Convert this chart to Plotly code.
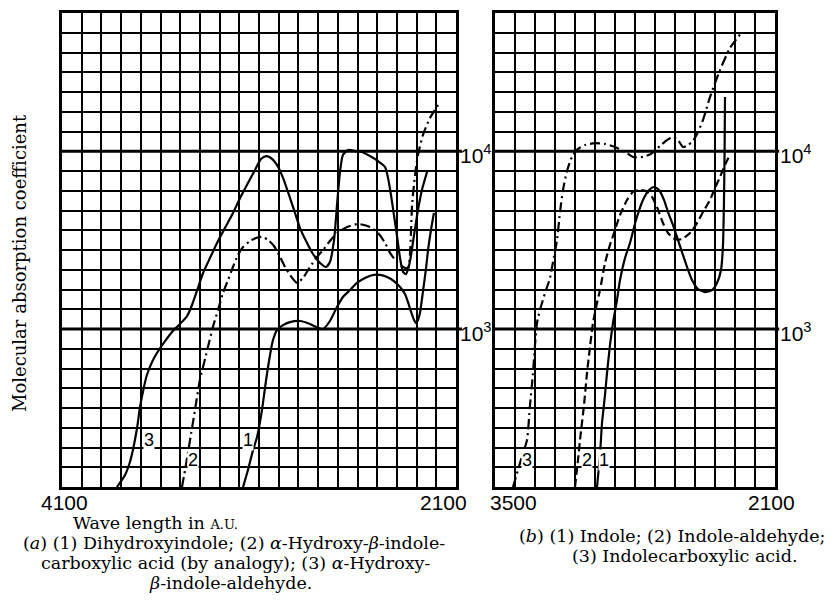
import plotly.graph_objects as go

# ---------------- data (wavelength in Å, log10 of molecular absorption coefficient) ----------------
# Panel (a)
a1_wl = [3181, 3156, 3130, 3110, 3085, 3064, 3044, 3029, 3009, 2978, 2943, 2892, 2841, 2800, 2775,
         2740, 2704, 2674, 2638, 2603, 2562, 2521, 2486, 2450, 2415, 2384, 2359, 2344, 2328, 2313,
         2303, 2293, 2283, 2268, 2252, 2242, 2227, 2212]
a1_log = [2.111, 2.207, 2.319, 2.392, 2.544, 2.713, 2.854, 2.938, 2.994, 3.022, 3.039, 3.045, 3.028, 3.006, 3.000,
          3.045, 3.124, 3.180, 3.219, 3.259, 3.287, 3.304, 3.304, 3.293, 3.270, 3.236, 3.197, 3.152, 3.096, 3.051,
          3.034, 3.051, 3.090, 3.208, 3.343, 3.444, 3.557, 3.653]

a2_wl = [3491, 3471, 3450, 3425, 3400, 3369, 3334, 3308, 3283, 3257, 3232, 3207, 3181, 3146, 3115,
         3085, 3054, 3024, 2998, 2973, 2943, 2907, 2877, 2841, 2806, 2775, 2740, 2704, 2653, 2597,
         2537, 2496, 2460, 2435, 2400, 2369, 2344, 2334, 2328, 2323, 2308, 2293, 2268, 2232, 2191]
a2_log = [2.111, 2.235, 2.375, 2.544, 2.713, 2.854, 3.011, 3.107, 3.202, 3.276, 3.349, 3.416, 3.461, 3.495, 3.512,
          3.518, 3.501, 3.467, 3.416, 3.360, 3.304, 3.259, 3.287, 3.349, 3.405, 3.444, 3.495, 3.540, 3.574, 3.591,
          3.574, 3.540, 3.484, 3.428, 3.377, 3.349, 3.343, 3.416, 3.557, 3.698, 3.866, 3.979, 4.091, 4.187, 4.260]

a3_wl = [3821, 3780, 3755, 3740, 3719, 3704, 3684, 3669, 3643, 3618, 3577, 3537, 3501, 3465, 3440,
         3415, 3384, 3349, 3313, 3273, 3232, 3196, 3156, 3120, 3090, 3064, 3039, 3009, 2978, 2953,
         2927, 2892, 2856, 2826, 2790, 2760, 2740, 2719, 2704, 2689, 2674, 2648, 2613, 2577, 2537,
         2496, 2460, 2445, 2430, 2415, 2400, 2384, 2369, 2354, 2339, 2328, 2313, 2293, 2273, 2247]
a3_log = [2.111, 2.179, 2.252, 2.319, 2.443, 2.561, 2.674, 2.741, 2.814, 2.865, 2.932, 2.989, 3.028, 3.073, 3.135,
          3.214, 3.315, 3.399, 3.484, 3.568, 3.653, 3.737, 3.821, 3.895, 3.956, 3.973, 3.962, 3.923, 3.850, 3.771,
          3.686, 3.568, 3.484, 3.422, 3.371, 3.349, 3.377, 3.501, 3.698, 3.883, 3.979, 4.007, 4.001, 3.996, 3.973,
          3.945, 3.911, 3.850, 3.754, 3.641, 3.529, 3.399, 3.321, 3.309, 3.354, 3.416, 3.529, 3.669, 3.782, 3.883]

# Panel (b)
b1_wl = [2990, 2975, 2965, 2950, 2940, 2925, 2910, 2890, 2875, 2850, 2825, 2795, 2760, 2730, 2705, 2680,
         2655, 2635, 2610, 2590, 2565, 2540, 2515, 2485, 2450, 2415, 2390, 2370, 2360, 2355, 2352, 2350]
b1_log = [2.111, 2.291, 2.471, 2.629, 2.752, 2.910, 3.034, 3.163, 3.276, 3.399, 3.484, 3.613, 3.726, 3.782, 3.799, 3.782,
          3.726, 3.658, 3.585, 3.518, 3.433, 3.349, 3.276, 3.225, 3.208, 3.219, 3.259, 3.332, 3.473, 3.726, 4.007, 4.305]

b2_wl = [3100, 3085, 3075, 3055, 3040, 3025, 3010, 2990, 2975, 2950, 2925, 2900, 2875, 2840, 2810, 2775,
         2745, 2715, 2690, 2660, 2635, 2600, 2565, 2525, 2490, 2460, 2425, 2400, 2375, 2350, 2325]
b2_log = [2.111, 2.263, 2.375, 2.572, 2.752, 2.899, 3.034, 3.146, 3.219, 3.371, 3.473, 3.557, 3.641, 3.726, 3.771, 3.782,
          3.776, 3.743, 3.686, 3.596, 3.540, 3.506, 3.506, 3.540, 3.596, 3.658, 3.726, 3.793, 3.855, 3.923, 3.979]

b3_wl = [3410, 3385, 3360, 3340, 3325, 3310, 3300, 3290, 3275, 3250, 3225, 3210, 3190, 3175, 3160, 3140,
         3115, 3085, 3050, 3000, 2950, 2900, 2850, 2810, 2760, 2720, 2675, 2640, 2610, 2585, 2560, 2535,
         2510, 2485, 2460, 2425, 2375, 2325, 2265]
b3_log = [2.111, 2.207, 2.302, 2.375, 2.572, 2.752, 2.910, 3.034, 3.107, 3.202, 3.287, 3.377, 3.501, 3.658, 3.782, 3.889,
          3.968, 4.013, 4.035, 4.046, 4.041, 4.024, 3.996, 3.968, 3.968, 3.985, 4.030, 4.063, 4.080, 4.063, 4.024, 4.035,
          4.058, 4.108, 4.176, 4.305, 4.457, 4.581, 4.671]

# axis settings
a_range = [4100, 2100]
b_range = [3500, 2100]
y_lo, y_hi = 3 - 8 / 9, 4 + 7 / 9
y_grid = [3 + k / 9 for k in range(-8, 17)]
decade_vals = [3, 4]
decade_text = ["10<sup>3</sup>", "10<sup>4</sup>"]

# ---------------- figure ----------------
# The page body has an 8px margin, so the figure is sized to fit the window exactly.
OFF = 8
FW, FH = 837 - 2 * OFF, 603 - 2 * OFF
def fx(px): return (px - OFF) / FW
def fy(py): return 1 - (py - OFF) / FH

DASHDOT = "10px,4px,2px,4px"
DASH = "8px,4px"
LW = 2.2

fig = go.Figure()
common = dict(mode="lines", line_shape="spline", showlegend=False, hoverinfo="skip")
fig.add_trace(go.Scatter(x=a1_wl, y=a1_log, xaxis="x", yaxis="y",
                         line=dict(color="black", width=LW, smoothing=0.6), **common))
fig.add_trace(go.Scatter(x=a2_wl, y=a2_log, xaxis="x", yaxis="y",
                         line=dict(color="black", width=LW, dash=DASHDOT, smoothing=0.6), **common))
fig.add_trace(go.Scatter(x=a3_wl, y=a3_log, xaxis="x", yaxis="y",
                         line=dict(color="black", width=LW, smoothing=0.6), **common))
fig.add_trace(go.Scatter(x=b1_wl, y=b1_log, xaxis="x2", yaxis="y2",
                         line=dict(color="black", width=LW, smoothing=0.6), **common))
fig.add_trace(go.Scatter(x=b2_wl, y=b2_log, xaxis="x2", yaxis="y2",
                         line=dict(color="black", width=LW, dash=DASH, smoothing=0.6), **common))
fig.add_trace(go.Scatter(x=b3_wl, y=b3_log, xaxis="x2", yaxis="y2",
                         line=dict(color="black", width=LW, dash=DASHDOT, smoothing=0.6), **common))

ax_common = dict(showgrid=True, gridcolor="black", gridwidth=2, showline=True, linecolor="black",
                 linewidth=3, mirror=True, zeroline=False, ticks="", showticklabels=False,
                 tickmode="array", fixedrange=True)
ydom = [fy(487), fy(13)]
fig.update_layout(
    width=FW, height=FH, margin=dict(l=0, r=0, t=0, b=0),
    paper_bgcolor="white", plot_bgcolor="white",
    xaxis=dict(domain=[fx(62), fx(456)], range=a_range, tickvals=list(range(2100, 4101, 100)), anchor="y", **ax_common),
    yaxis=dict(domain=ydom, range=[y_lo, y_hi], tickvals=y_grid, anchor="x", **ax_common),
    xaxis2=dict(domain=[fx(495), fx(775)], range=b_range, tickvals=list(range(2100, 3501, 100)), anchor="y2", **ax_common),
    yaxis2=dict(domain=ydom, range=[y_lo, y_hi], tickvals=y_grid, anchor="x2", **ax_common),
)

# heavier decade lines
for xr, yr in (("x domain", "y"), ("x2 domain", "y2")):
    for v in decade_vals:
        fig.add_shape(type="line", xref=xr, yref=yr, x0=0, x1=1.015, y0=v, y1=v,
                      line=dict(color="black", width=3))

SANS = "Liberation Sans, Arial, sans-serif"
SERIF = "DejaVu Serif, serif"
anns = []
# decade labels
for v, t in zip(decade_vals, decade_text):
    anns.append(dict(x=fx(458), xref="paper", y=v, yref="y", text=t, showarrow=False,
                     xanchor="left", yanchor="middle", yshift=-3, font=dict(family=SANS, size=21, color="black")))
    anns.append(dict(x=fx(778), xref="paper", y=v, yref="y2", text=t, showarrow=False,
                     xanchor="left", yanchor="middle", yshift=-3, font=dict(family=SANS, size=21, color="black")))
# wavelength end labels
for xv, xr, sh in ((4100, "x", 2), (2100, "x", -13), (3500, "x2", 18), (2100, "x2", -4)):
    anns.append(dict(x=xv, xref=xr, y=fy(502), yref="paper", text=str(xv), showarrow=False,
                     xanchor="center", yanchor="middle", xshift=sh,
                     font=dict(family=SANS, size=21, color="black")))
# curve numbers
for xv, yv, t, xr, yr in ((3658, 2.375, "3", "x", "y"), (3435, 2.263, "2", "x", "y"), (3156, 2.375, "1", "x", "y"),
                          (3340, 2.263, "3", "x2", "y2"), (3040, 2.263, "2", "x2", "y2"), (2955, 2.263, "1", "x2", "y2")):
    anns.append(dict(x=xv, xref=xr, y=yv, yref=yr, text=t, showarrow=False, xanchor="center", yanchor="middle",
                     bgcolor="white", borderpad=0, font=dict(family=SANS, size=18, color="black")))
# axis title
anns.append(dict(x=fx(19), xref="paper", y=fy(263), yref="paper", text="Molecular absorption coefficient",
                 textangle=-90, showarrow=False, xanchor="center", yanchor="middle",
                 font=dict(family=SERIF, size=18, color="black")))
# captions: (x, y, anchor, text)
captions = [
    (72, 523, "left", "Wave length in <span style='font-size:13px'>A.U.</span>"),
    (234, 543, "center", "(<i>a</i>) (1) Dihydroxyindole; (2) <i>α</i>-Hydroxy-<i>β</i>-indole-"),
    (235, 563, "center", "carboxylic acid (by analogy); (3) <i>α</i>-Hydroxy-"),
    (231, 583, "center", "<i>β</i>-indole-aldehyde."),
    (672, 536, "center", "(<i>b</i>) (1) Indole; (2) Indole-aldehyde;"),
    (684, 556, "center", "(3) Indolecarboxylic acid."),
]
for x, y, anc, t in captions:
    anns.append(dict(x=fx(x), xref="paper", y=fy(y), yref="paper", text=t, showarrow=False,
                     xanchor=anc, yanchor="middle", borderpad=0,
                     font=dict(family=SERIF, size=17.5, color="black")))
fig.update_layout(annotations=anns)

fig.write_html("out.html")
